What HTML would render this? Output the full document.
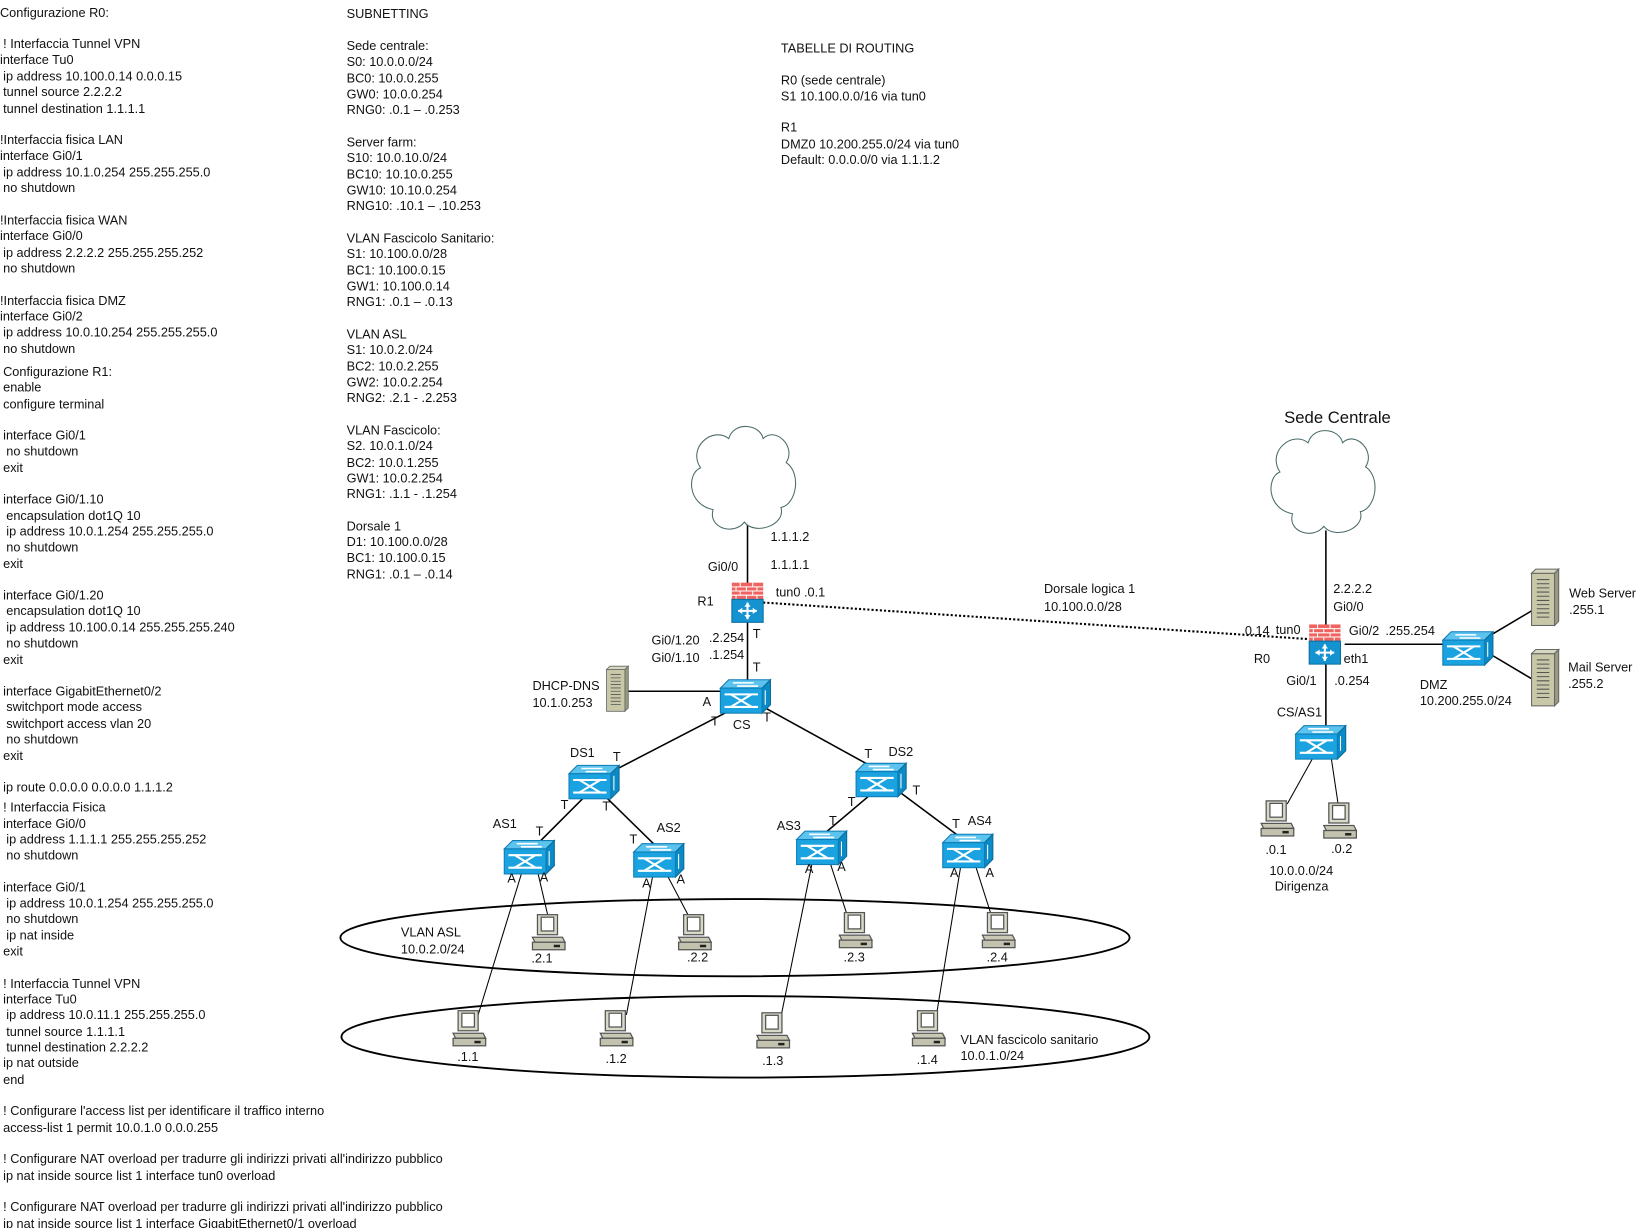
<!DOCTYPE html>
<html><head><meta charset="utf-8"><style>
html,body{margin:0;padding:0;background:#fff;}
svg{display:block;}
text{font-family:"Liberation Sans",sans-serif;font-size:12.2px;fill:#111;}
</style></head><body>
<svg width="1637" height="1228" viewBox="0 0 1568 1176" xmlns="http://www.w3.org/2000/svg">
<defs>
<g id="sw">
<polygon points="0,8 8,0 48,0 40,8" fill="#5cc3ee" stroke="#0d7db5" stroke-width="1"/>
<polygon points="40,8 48,0 48,24 40,32" fill="#0a8ac6" stroke="#0d6a95" stroke-width="1"/>
<rect x="0" y="8" width="40" height="24" fill="#1aa3e0" stroke="#0d7db5"/>
<path d="M4,14h32M4,26h32M10,14l20,12M30,14l-20,12" stroke="#fff" stroke-width="2" fill="none"/>
<path d="M12,3h20M16,6h20" stroke="#fff" stroke-width="1.5"/>
<path d="M43,10v14" stroke="#fff" stroke-width="1"/>
</g>
<g id="rt">
<rect x="0" y="0" width="30" height="16" fill="#ef6461"/>
<path d="M0,4h30M0,8h30M0,12h30M8,0v4M20,0v4M4,4v4M14,4v4M24,4v4M8,8v4M20,8v4M4,12v4M14,12v4M24,12v4" stroke="#fff" stroke-width="1"/>
<rect x="0" y="16" width="30" height="22" fill="#1592d0" stroke="#0b6fa3"/>
<path d="M6,27h18M15,19v16" stroke="#fff" stroke-width="2"/>
<path d="M6,27l4,-3v6zM24,27l-4,-3v6zM15,19l-3,4h6zM15,35l-3,-4h6z" fill="#fff"/>
</g>
<g id="pc0">
<rect x="4" y="0" width="16" height="16" fill="#d9d9c8" stroke="#555"/>
<rect x="7" y="2" width="10" height="11" fill="#fff" stroke="#555"/>
<polygon points="0,18 24,18 26,22 2,22" fill="#c9c9b5" stroke="#555"/>
<rect x="0" y="22" width="26" height="6" fill="#c2c2ae" stroke="#555"/>
<rect x="17" y="24" width="5" height="2" fill="#222"/>
</g>
<g id="pc"><use href="#pc0" transform="scale(1.2)"/></g>
<g id="sv">
<rect x="0" y="4" width="22" height="50" fill="#c8c8a8" stroke="#666"/>
<polygon points="0,4 4,0 26,0 22,4" fill="#d8d8c0" stroke="#666"/>
<polygon points="22,4 26,0 26,50 22,54" fill="#9a9a80" stroke="#666"/>
<path d="M5,10h12M5,14h12M5,18h12M5,22h12M5,26h12M5,30h12M5,34h12M5,38h12M5,42h12M5,46h12" stroke="#555" stroke-width="1"/>
</g>
<g id="cl">
<path d="M-30,30 C-55,25 -55,-5 -42,-10 C-55,-30 -30,-50 -15,-38 C-10,-55 15,-52 18,-38 C30,-50 50,-30 40,-15 C55,-5 50,25 35,28 C40,45 10,55 0,42 C-10,55 -35,48 -30,30Z" fill="#fff" stroke="#4a6a6a" stroke-width="1"/>
</g>
</defs>

<g>
<text x="0" y="16">Configurazione R0:</text>
<text x="3" y="46">! Interfaccia Tunnel VPN</text>
<text x="0" y="61">interface Tu0</text>
<text x="3" y="77">ip address 10.100.0.14 0.0.0.15</text>
<text x="3" y="92">tunnel source 2.2.2.2</text>
<text x="3" y="108">tunnel destination 1.1.1.1</text>
<text x="0" y="138">!Interfaccia fisica LAN</text>
<text x="0" y="153">interface Gi0/1</text>
<text x="3" y="169">ip address 10.1.0.254 255.255.255.0</text>
<text x="3" y="184">no shutdown</text>
<text x="0" y="215">!Interfaccia fisica WAN</text>
<text x="0" y="230">interface Gi0/0</text>
<text x="3" y="246">ip address 2.2.2.2 255.255.255.252</text>
<text x="3" y="261">no shutdown</text>
<text x="0" y="292">!Interfaccia fisica DMZ</text>
<text x="0" y="307">interface Gi0/2</text>
<text x="3" y="322">ip address 10.0.10.254 255.255.255.0</text>
<text x="3" y="338">no shutdown</text>
<text x="3" y="360">Configurazione R1:</text>
<text x="3" y="375">enable</text>
<text x="3" y="391">configure terminal</text>
<text x="3" y="421">interface Gi0/1</text>
<text x="6" y="436">no shutdown</text>
<text x="3" y="452">exit</text>
<text x="3" y="482">interface Gi0/1.10</text>
<text x="6" y="498">encapsulation dot1Q 10</text>
<text x="6" y="513">ip address 10.0.1.254 255.255.255.0</text>
<text x="6" y="528">no shutdown</text>
<text x="3" y="544">exit</text>
<text x="3" y="574">interface Gi0/1.20</text>
<text x="6" y="589">encapsulation dot1Q 10</text>
<text x="6" y="605">ip address 10.100.0.14 255.255.255.240</text>
<text x="6" y="620">no shutdown</text>
<text x="3" y="636">exit</text>
<text x="3" y="666">interface GigabitEthernet0/2</text>
<text x="6" y="681">switchport mode access</text>
<text x="6" y="697">switchport access vlan 20</text>
<text x="6" y="712">no shutdown</text>
<text x="3" y="728">exit</text>
<text x="3" y="758">ip route 0.0.0.0 0.0.0.0 1.1.1.2</text>
<text x="3" y="777">! Interfaccia Fisica</text>
<text x="3" y="793">interface Gi0/0</text>
<text x="6" y="808">ip address 1.1.1.1 255.255.255.252</text>
<text x="6" y="823">no shutdown</text>
<text x="3" y="854">interface Gi0/1</text>
<text x="6" y="869">ip address 10.0.1.254 255.255.255.0</text>
<text x="6" y="884">no shutdown</text>
<text x="6" y="900">ip nat inside</text>
<text x="3" y="915">exit</text>
<text x="3" y="946">! Interfaccia Tunnel VPN</text>
<text x="3" y="961">interface Tu0</text>
<text x="6" y="976">ip address 10.0.11.1 255.255.255.0</text>
<text x="6" y="992">tunnel source 1.1.1.1</text>
<text x="6" y="1007">tunnel destination 2.2.2.2</text>
<text x="3" y="1022">ip nat outside</text>
<text x="3" y="1038">end</text>
<text x="3" y="1068">! Configurare l'access list per identificare il traffico interno</text>
<text x="3" y="1084">access-list 1 permit 10.0.1.0  0.0.0.255</text>
<text x="3" y="1114">! Configurare NAT overload per tradurre gli indirizzi privati all'indirizzo pubblico</text>
<text x="3" y="1130">ip nat inside source list 1 interface tun0 overload</text>
<text x="3" y="1160">! Configurare NAT overload per tradurre gli indirizzi privati all'indirizzo pubblico</text>
<text x="3" y="1176">ip nat inside source list 1 interface GigabitEthernet0/1 overload</text>
</g>

<g>
<text x="332" y="17">SUBNETTING</text>
<text x="332" y="48">Sede centrale:</text>
<text x="332" y="63">S0: 10.0.0.0/24</text>
<text x="332" y="79">BC0: 10.0.0.255</text>
<text x="332" y="94">GW0: 10.0.0.254</text>
<text x="332" y="109">RNG0: .0.1 – .0.253</text>
<text x="332" y="140">Server farm:</text>
<text x="332" y="155">S10: 10.0.10.0/24</text>
<text x="332" y="171">BC10: 10.10.0.255</text>
<text x="332" y="186">GW10: 10.10.0.254</text>
<text x="332" y="201">RNG10: .10.1 – .10.253</text>
<text x="332" y="232">VLAN Fascicolo Sanitario:</text>
<text x="332" y="247">S1: 10.100.0.0/28</text>
<text x="332" y="263">BC1: 10.100.0.15</text>
<text x="332" y="278">GW1: 10.100.0.14</text>
<text x="332" y="293">RNG1: .0.1 – .0.13</text>
<text x="332" y="324">VLAN ASL</text>
<text x="332" y="339">S1: 10.0.2.0/24</text>
<text x="332" y="355">BC2: 10.0.2.255</text>
<text x="332" y="370">GW2: 10.0.2.254</text>
<text x="332" y="385">RNG2: .2.1 - .2.253</text>
<text x="332" y="416">VLAN Fascicolo:</text>
<text x="332" y="431">S2. 10.0.1.0/24</text>
<text x="332" y="447">BC2: 10.0.1.255</text>
<text x="332" y="462">GW1: 10.0.2.254</text>
<text x="332" y="477">RNG1: .1.1 - .1.254</text>
<text x="332" y="508">Dorsale 1</text>
<text x="332" y="523">D1: 10.100.0.0/28</text>
<text x="332" y="538">BC1: 10.100.0.15</text>
<text x="332" y="554">RNG1: .0.1 – .0.14</text>
</g>

<g>
<text x="748" y="50">TABELLE DI ROUTING</text>
<text x="748" y="81">R0 (sede centrale)</text>
<text x="748" y="96">S1 10.100.0.0/16 via tun0</text>
<text x="748" y="126">R1</text>
<text x="748" y="142">DMZ0 10.200.255.0/24 via tun0</text>
<text x="748" y="157">Default: 0.0.0.0/0 via 1.1.1.2</text>
</g>

<g stroke="#000" stroke-width="1.5" fill="none">
<line x1="716" y1="503" x2="716" y2="560"/>
<line x1="716" y1="595" x2="716" y2="655"/>
<line x1="601" y1="662" x2="692" y2="662"/>
<line x1="700" y1="680" x2="588" y2="738"/>
<line x1="733" y1="678" x2="842" y2="738"/>
<line x1="560" y1="763" x2="515" y2="808"/>
<line x1="580" y1="763" x2="628" y2="810"/>
<line x1="835" y1="760" x2="790" y2="798"/>
<line x1="857" y1="755" x2="920" y2="802"/>
<line x1="1270" y1="508" x2="1270" y2="600"/>
<line x1="1270" y1="636" x2="1270" y2="698"/>
<line x1="1288" y1="617" x2="1384" y2="617"/>
<line x1="1430" y1="607" x2="1467" y2="585"/>
<line x1="1430" y1="628" x2="1467" y2="650"/>
</g>
<g stroke="#000" stroke-width="1" fill="none">
<line x1="515" y1="835" x2="525" y2="878"/>
<line x1="500" y1="835" x2="458" y2="972"/>
<line x1="640" y1="840" x2="660" y2="878"/>
<line x1="625" y1="840" x2="600" y2="972"/>
<line x1="795" y1="826" x2="812" y2="878"/>
<line x1="778" y1="826" x2="748" y2="974"/>
<line x1="935" y1="831" x2="950" y2="878"/>
<line x1="920" y1="831" x2="897" y2="972"/>
<line x1="1258" y1="725" x2="1233" y2="770"/>
<line x1="1275" y1="725" x2="1282" y2="772"/>
</g>
<line x1="731" y1="577" x2="1253" y2="612" stroke="#000" stroke-width="2" stroke-dasharray="2,2"/>
<ellipse cx="704" cy="898" rx="378" ry="37" fill="none" stroke="#000" stroke-width="1.8"/>
<ellipse cx="714" cy="993" rx="387" ry="39" fill="none" stroke="#000" stroke-width="1.8"/>

<use href="#cl" x="713" y="458"/>
<use href="#cl" x="1268" y="462"/>
<text x="1230" y="405" style="font-size:16px">Sede Centrale</text>

<use href="#rt" x="701" y="558"/>
<use href="#rt" x="1254" y="598"/>
<use href="#sw" x="690" y="651"/>
<use href="#sw" x="545" y="733"/>
<use href="#sw" x="820" y="731"/>
<use href="#sw" x="483" y="805"/>
<use href="#sw" x="607" y="808"/>
<use href="#sw" x="763" y="796"/>
<use href="#sw" x="903" y="799"/>
<use href="#sw" x="1241" y="695"/>
<use href="#sw" x="1382" y="605"/>
<use href="#sv" transform="translate(581,638) scale(0.8)"/>
<use href="#sv" x="1467" y="545"/>
<use href="#sv" x="1467" y="622"/>
<use href="#pc" x="510" y="876"/>
<use href="#pc" x="650" y="876"/>
<use href="#pc" x="804" y="874"/>
<use href="#pc" x="941" y="874"/>
<use href="#pc" x="434" y="968"/>
<use href="#pc" x="575" y="968"/>
<use href="#pc" x="725" y="970"/>
<use href="#pc" x="874" y="968"/>
<use href="#pc" x="1208" y="767"/>
<use href="#pc" x="1268" y="769"/>

<g>
<text x="738" y="518">1.1.1.2</text>
<text x="678" y="547">Gi0/0</text>
<text x="738" y="545">1.1.1.1</text>
<text x="743" y="571">tun0 .0.1</text>
<text x="668" y="580">R1</text>
<text x="624" y="617">Gi0/1.20</text>
<text x="679" y="615">.2.254</text>
<text x="721" y="611">T</text>
<text x="624" y="634">Gi0/1.10</text>
<text x="679" y="631">.1.254</text>
<text x="721" y="643">T</text>
<text x="510" y="661">DHCP-DNS</text>
<text x="510" y="677">10.1.0.253</text>
<text x="673" y="676">A</text>
<text x="681" y="695">T</text>
<text x="702" y="698">CS</text>
<text x="731" y="691">T</text>
<text x="546" y="725">DS1</text>
<text x="587" y="729">T</text>
<text x="828" y="726">T</text>
<text x="851" y="724">DS2</text>
<text x="537" y="775">T</text>
<text x="577" y="776">T</text>
<text x="812" y="772">T</text>
<text x="874" y="761">T</text>
<text x="472" y="793">AS1</text>
<text x="513" y="800">T</text>
<text x="629" y="797">AS2</text>
<text x="603" y="808">T</text>
<text x="744" y="795">AS3</text>
<text x="794" y="790">T</text>
<text x="927" y="790">AS4</text>
<text x="912" y="793">T</text>
<text x="486" y="845">A</text>
<text x="517" y="844">A</text>
<text x="615" y="850">A</text>
<text x="648" y="846">A</text>
<text x="771" y="836">A</text>
<text x="802" y="834">A</text>
<text x="910" y="840">A</text>
<text x="944" y="840">A</text>
<text x="384" y="897">VLAN ASL</text>
<text x="384" y="913">10.0.2.0/24</text>
<text x="509" y="922">.2.1</text>
<text x="658" y="921">.2.2</text>
<text x="808" y="921">.2.3</text>
<text x="945" y="921">.2.4</text>
<text x="438" y="1016">.1.1</text>
<text x="580" y="1018">.1.2</text>
<text x="730" y="1020">.1.3</text>
<text x="878" y="1019">.1.4</text>
<text x="920" y="1000">VLAN fascicolo sanitario</text>
<text x="920" y="1015">10.0.1.0/24</text>
<text x="1000" y="568">Dorsale logica 1</text>
<text x="1000" y="585">10.100.0.0/28</text>
<text x="1277" y="568">2.2.2.2</text>
<text x="1277" y="585">Gi0/0</text>
<text x="1189" y="608">.0.14</text>
<text x="1222" y="607">tun0</text>
<text x="1292" y="608">Gi0/2</text>
<text x="1327" y="608">.255.254</text>
<text x="1201" y="635">R0</text>
<text x="1287" y="635">eth1</text>
<text x="1232" y="656">Gi0/1</text>
<text x="1278" y="656">.0.254</text>
<text x="1223" y="686">CS/AS1</text>
<text x="1360" y="660">DMZ</text>
<text x="1360" y="675">10.200.255.0/24</text>
<text x="1503" y="572">Web Server</text>
<text x="1503" y="588">.255.1</text>
<text x="1502" y="643">Mail Server</text>
<text x="1502" y="659">.255.2</text>
<text x="1212" y="818">.0.1</text>
<text x="1275" y="817">.0.2</text>
<text x="1216" y="838">10.0.0.0/24</text>
<text x="1221" y="853">Dirigenza</text>
</g>
</svg>
</body></html>
